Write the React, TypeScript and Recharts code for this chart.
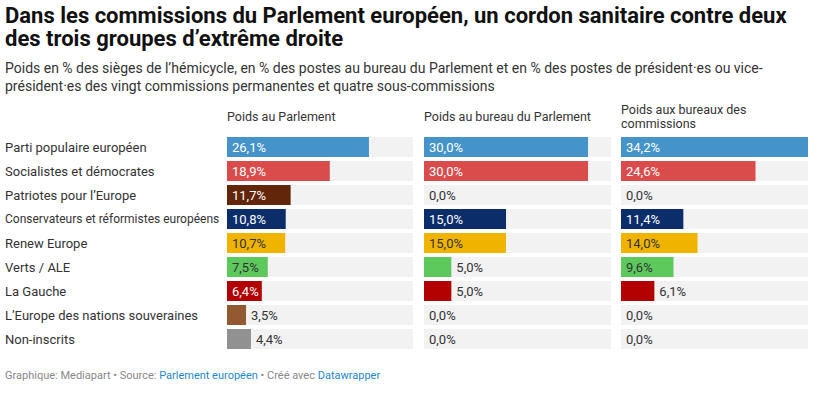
import { Bar, BarChart, Cell, LabelList, XAxis, YAxis } from "recharts";

const groups = [
  "Parti populaire européen",
  "Socialistes et démocrates",
  "Patriotes pour l’Europe",
  "Conservateurs et réformistes européens",
  "Renew Europe",
  "Verts / ALE",
  "La Gauche",
  "L’Europe des nations souveraines",
  "Non-inscrits",
];
const parlement = [26.1, 18.9, 11.7, 10.8, 10.7, 7.5, 6.4, 3.5, 4.4];
const bureau = [30.0, 30.0, 0.0, 15.0, 15.0, 5.0, 5.0, 0.0, 0.0];
const commissions = [34.2, 24.6, 0.0, 11.4, 14.0, 9.6, 6.1, 0.0, 0.0];
const colors = ["#4493c9", "#da4c4c", "#62260b", "#0b2e6b", "#f0b400", "#5dc95d", "#b30000", "#935a31", "#919191"];
const darkText = [false, false, false, false, true, true, false, false, false];

const FONT = "Roboto, 'Noto Sans', sans-serif";
const MAX = 34.2;
const ROW_H = 24;
const BAR_H = 20;
const CHART_TOP = 135;
const CHART_H = groups.length * ROW_H;

const fmt = (v: number) => `${v.toFixed(1).replace(".", ",")}%`;

function makeLabel(values: number[]) {
  return function ValueLabel(props: any) {
    const { x, y, width, height, index } = props;
    const v = values[index];
    const w = (Number(width) * v) / MAX;
    const inside = w >= 34;
    let tx: number;
    let fill: string;
    if (w === 0) {
      tx = Number(x) + 5;
      fill = "#333";
    } else if (inside) {
      tx = Number(x) + 5;
      fill = darkText[index] ? "#333" : "#fff";
    } else {
      tx = Number(x) + w + 5;
      fill = "#333";
    }
    return (
      <text x={tx} y={Number(y) + Number(height) / 2} dy="0.35em" fontSize={13} fontFamily={FONT} fill={fill}>
        {fmt(v)}
      </text>
    );
  };
}

function Column({ values, left, width, axisWidth }: { values: number[]; left: number; width: number; axisWidth: number }) {
  const data = groups.map((g, i) => ({ name: g, value: values[i], full: MAX }));
  return (
    <div style={{ position: "absolute", left, top: CHART_TOP }}>
      <BarChart
        width={width}
        height={CHART_H}
        data={data}
        layout="vertical"
        margin={{ top: 0, right: 0, bottom: 0, left: 0 }}
        barCategoryGap={ROW_H - BAR_H}
        barGap={-BAR_H}
      >
        <XAxis type="number" domain={[0, MAX]} hide />
        <YAxis
          type="category"
          dataKey="name"
          hide={axisWidth === 0}
          width={axisWidth}
          axisLine={false}
          tickLine={false}
          tick={(p: any) => {
            // longest group name gets a slightly smaller size so it stays clear of the bars
            const long = String(p.payload.value).length > 34;
            return (
              <text
                x={5}
                y={p.y}
                dy="0.35em"
                fontSize={long ? 12 : 13}
                fontFamily={FONT}
                fill="#333"
                textAnchor="start"
              >
                {p.payload.value}
              </text>
            );
          }}
        />
        <Bar dataKey="full" barSize={BAR_H} fill="#f2f2f2" isAnimationActive={false} />
        <Bar dataKey="value" barSize={BAR_H} isAnimationActive={false}>
          {data.map((_, i) => (
            <Cell key={i} fill={colors[i]} />
          ))}
        </Bar>
        <Bar dataKey="full" barSize={BAR_H} fill="none" fillOpacity={0} isAnimationActive={false}>
          <LabelList dataKey="full" content={makeLabel(values)} />
        </Bar>
      </BarChart>
    </div>
  );
}

export default function App() {
  const cols = [
    { values: parlement, left: 0, width: 413, axisWidth: 227 },
    { values: bureau, left: 424, width: 187, axisWidth: 0 },
    { values: commissions, left: 621, width: 187, axisWidth: 0 },
  ];
  const headStyle: any = { position: "absolute", fontSize: 12.5, lineHeight: "14px", color: "#333", whiteSpace: "nowrap" };
  return (
    <div style={{ position: "absolute", left: 0, top: 0, width: 821, height: 395, background: "#fff", fontFamily: FONT, color: "#222" }}>
      <div style={{ position: "absolute", left: 5, top: 4, width: 795, fontSize: 22, fontWeight: 700, lineHeight: "23px", color: "#111" }}>
        Dans les commissions du Parlement européen, un cordon sanitaire contre deux des trois groupes d’extrême droite
      </div>
      <div style={{ position: "absolute", left: 5, top: 59, width: 790, fontSize: 14, lineHeight: "18px", color: "#333" }}>
        Poids en % des sièges de l’hémicycle, en % des postes au bureau du Parlement et en % des postes de président·es ou vice-président·es des vingt commissions permanentes et quatre sous-commissions
      </div>
      <div style={{ ...headStyle, left: 227, top: 110 }}>Poids au Parlement</div>
      <div style={{ ...headStyle, left: 424, top: 110 }}>Poids au bureau du Parlement</div>
      <div style={{ ...headStyle, left: 621, top: 103 }}>
        Poids aux bureaux des
        <br />
        commissions
      </div>
      {cols.map((c, i) => (
        <Column key={i} values={c.values} left={c.left} width={c.width} axisWidth={c.axisWidth} />
      ))}
      <div style={{ position: "absolute", left: 5, top: 369, fontSize: 11, lineHeight: "14px", color: "#888" }}>
        Graphique: Mediapart • Source: <span style={{ color: "#1d88c8" }}>Parlement européen</span> • Créé avec{" "}
        <span style={{ color: "#1d88c8" }}>Datawrapper</span>
      </div>
    </div>
  );
}
